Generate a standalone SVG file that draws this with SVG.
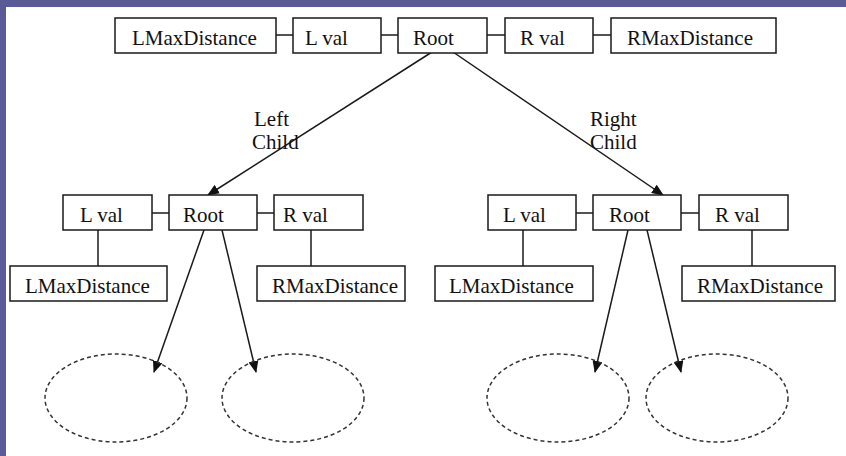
<svg xmlns="http://www.w3.org/2000/svg" width="846" height="456" viewBox="0 0 846 456">
<defs>
<style>
.box{fill:#fff;stroke:#1a1a1a;stroke-width:1.5}
.t{font-family:"Liberation Serif","Times New Roman",serif;font-size:21px;fill:#111}
.ln{stroke:#1a1a1a;stroke-width:1.5;fill:none}
.ar{stroke:#1a1a1a;stroke-width:1.5;fill:none;marker-end:url(#ah)}
.el{fill:none;stroke:#333;stroke-width:1.5;stroke-dasharray:4 3}
</style>
<marker id="ah" viewBox="0 0 12 10" refX="11" refY="5" markerWidth="12" markerHeight="10" markerUnits="userSpaceOnUse" orient="auto">
<path d="M0,0 L12,5 L0,10 z" fill="#111"/>
</marker>
</defs>
<rect width="846" height="456" fill="#5a5a96"/>
<rect x="6" y="7" width="840" height="449" fill="#ffffff"/>

<g id="connectors">
<line class="ln" x1="276" y1="35" x2="293" y2="35"/>
<line class="ln" x1="381" y1="35" x2="398" y2="35"/>
<line class="ln" x1="487" y1="35" x2="505" y2="35"/>
<line class="ln" x1="593" y1="35" x2="611" y2="35"/>
<line class="ln" x1="152" y1="213" x2="169" y2="213"/>
<line class="ln" x1="257" y1="213" x2="274" y2="213"/>
<line class="ln" x1="98" y1="230" x2="98" y2="266"/>
<line class="ln" x1="311" y1="230" x2="311" y2="266"/>
<line class="ln" x1="576" y1="213" x2="593" y2="213"/>
<line class="ln" x1="681" y1="213" x2="699" y2="213"/>
<line class="ln" x1="523" y1="230" x2="523" y2="266"/>
<line class="ln" x1="752" y1="230" x2="752" y2="266"/>
<line class="ar" x1="432" y1="52" x2="208" y2="195"/>
<line class="ar" x1="453" y1="52" x2="663" y2="195"/>
<line class="ar" x1="204" y1="230" x2="154" y2="372"/>
<line class="ar" x1="222" y1="230" x2="256" y2="372"/>
<line class="ar" x1="628" y1="230" x2="595" y2="372"/>
<line class="ar" x1="647" y1="230" x2="681" y2="372"/>
</g>

<g id="top-lmax"><rect class="box" x="115" y="18" width="161" height="35"/><text class="t" x="132" y="45">LMaxDistance</text></g>
<g id="top-lval"><rect class="box" x="293" y="18" width="88" height="35"/><text class="t" x="305" y="45">L val</text></g>
<g id="top-root"><rect class="box" x="398" y="18" width="89" height="35"/><text class="t" x="413" y="45">Root</text></g>
<g id="top-rval"><rect class="box" x="505" y="18" width="88" height="35"/><text class="t" x="520" y="45">R val</text></g>
<g id="top-rmax"><rect class="box" x="611" y="18" width="165" height="35"/><text class="t" x="627" y="45">RMaxDistance</text></g>

<g id="label-left"><text class="t" x="254" y="126">Left</text><text class="t" x="252" y="149">Child</text></g>
<g id="label-right"><text class="t" x="590" y="126">Right</text><text class="t" x="590" y="149">Child</text></g>

<g id="l-lval"><rect class="box" x="63" y="195" width="89" height="35"/><text class="t" x="80" y="222">L val</text></g>
<g id="l-root"><rect class="box" x="169" y="195" width="88" height="35"/><text class="t" x="183" y="222">Root</text></g>
<g id="l-rval"><rect class="box" x="274" y="195" width="89" height="35"/><text class="t" x="283" y="222">R val</text></g>
<g id="l-lmax"><rect class="box" x="10" y="266" width="157" height="35"/><text class="t" x="25" y="293">LMaxDistance</text></g>
<g id="l-rmax"><rect class="box" x="257" y="266" width="148" height="35"/><text class="t" x="272" y="293">RMaxDistance</text></g>

<g id="r-lval"><rect class="box" x="488" y="195" width="88" height="35"/><text class="t" x="503" y="222">L val</text></g>
<g id="r-root"><rect class="box" x="593" y="195" width="88" height="35"/><text class="t" x="609" y="222">Root</text></g>
<g id="r-rval"><rect class="box" x="699" y="195" width="89" height="35"/><text class="t" x="715" y="222">R val</text></g>
<g id="r-lmax"><rect class="box" x="435" y="266" width="158" height="35"/><text class="t" x="449" y="293">LMaxDistance</text></g>
<g id="r-rmax"><rect class="box" x="682" y="266" width="153" height="35"/><text class="t" x="697" y="293">RMaxDistance</text></g>

<g id="ell-1"><ellipse class="el" cx="116" cy="398" rx="71" ry="44"/></g>
<g id="ell-2"><ellipse class="el" cx="293" cy="398" rx="71" ry="44"/></g>
<g id="ell-3"><ellipse class="el" cx="558" cy="398" rx="71" ry="44"/></g>
<g id="ell-4"><ellipse class="el" cx="717" cy="398" rx="71" ry="44"/></g>
</svg>
